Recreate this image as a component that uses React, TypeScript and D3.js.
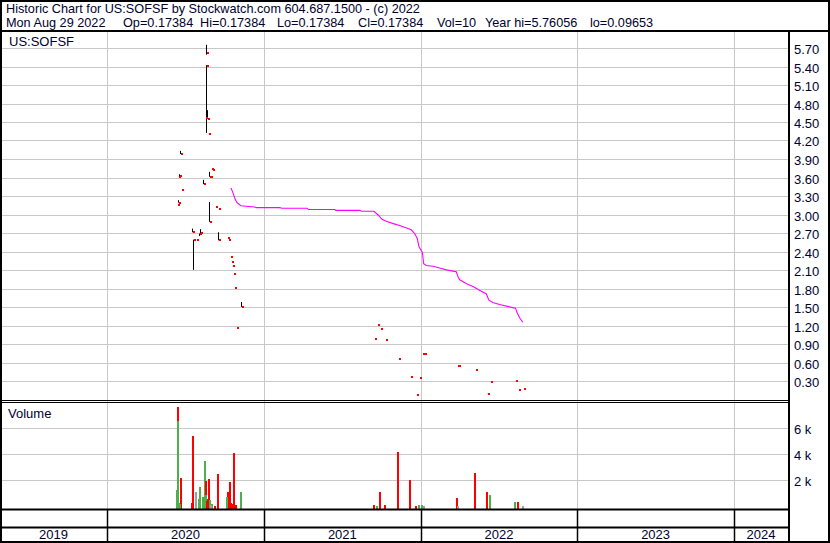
import * as d3 from "d3";

// daily trades
const TRADE_DATES = [
  "2020-06-15", "2020-06-16", "2020-06-17", "2020-06-19", "2020-06-22", "2020-06-23",
  "2020-07-20", "2020-07-21", "2020-07-28", "2020-08-05", "2020-08-07", "2020-08-14",
  "2020-08-19", "2020-08-20", "2020-08-21", "2020-08-24", "2020-08-25", "2020-08-27",
  "2020-08-28", "2020-08-31", "2020-09-02", "2020-09-04", "2020-09-11", "2020-09-17",
  "2020-09-18", "2020-10-08", "2020-10-12", "2020-10-16", "2020-10-18", "2020-10-20",
  "2020-10-22", "2020-10-25", "2020-10-29", "2020-11-10",
  "2021-09-16", "2021-09-23", "2021-09-30", "2021-10-12", "2021-11-12", "2021-12-10",
  "2021-12-24", "2021-12-30",
  "2022-01-07", "2022-01-10", "2022-03-28", "2022-04-01", "2022-05-11", "2022-06-08",
  "2022-06-15", "2022-08-12", "2022-08-17", "2022-08-29",
];
const HIGHS = [
  3.17, 3.62, 3.24, 3.66, 4.04, 3.41,
  2.78, 2.6, 2.59, 2.7, 2.77, 3.57,
  4.58, 5.76, 5.43, 4.7, 4.31, 3.7,
  3.21, 3.62, 3.75, 3.73, 3.13, 3.1,
  2.72, 2.62, 2.59, 2.32, 2.23, 2.17,
  2.04, 1.82, 1.17, 1.59,
  0.99, 1.22, 1.15, 0.97, 0.66, 0.37,
  0.08, 0.36,
  0.75, 0.75, 0.55, 0.55, 0.49, 0.1,
  0.29, 0.31, 0.16, 0.17384,
];
const LOWS = [
  3.17, 3.62, 3.2, 3.62, 3.99, 3.41,
  2.72, 2.11, 2.59, 2.66, 2.7, 3.5,
  4.58, 5.6, 4.33, 4.56, 4.31, 3.62,
  2.89, 3.6, 3.75, 3.73, 3.13, 3.1,
  2.59, 2.62, 2.59, 2.32, 2.23, 2.17,
  2.04, 1.82, 1.17, 1.51,
  0.99, 1.22, 1.15, 0.97, 0.66, 0.37,
  0.08, 0.36,
  0.75, 0.75, 0.55, 0.55, 0.49, 0.0965,
  0.29, 0.31, 0.16, 0.17384,
];
const CLOSES = [
  3.17, 3.62, 3.2, 3.64, 3.99, 3.41,
  2.72, 2.59, 2.59, 2.69, 2.71, 3.5,
  4.58, 5.63, 5.42, 4.56, 4.31, 3.62,
  2.89, 3.62, 3.75, 3.73, 3.13, 3.1,
  2.59, 2.62, 2.59, 2.32, 2.23, 2.17,
  2.04, 1.82, 1.17, 1.51,
  0.99, 1.22, 1.15, 0.97, 0.66, 0.37,
  0.08, 0.36,
  0.75, 0.75, 0.55, 0.55, 0.49, 0.1,
  0.29, 0.31, 0.16, 0.17384,
];
const VOLUMES = [
  1270, 6580, 7650, 300, 200, 2200,
  300, 5420, 1100, 580, 1500, 730,
  3500, 900, 1960, 400, 600, 2100,
  800, 500, 100, 200, 60, 60,
  2500, 730, 1100, 1880, 250, 200,
  100, 4100, 150, 1100,
  120, 50, 1100, 120, 4200, 2050,
  50, 120,
  120, 30, 650, 30, 2580, 1100,
  880, 350, 350, 10,
];
// u = up day (green), d = down day (red), n = unchanged (grey)
const MOVES = [
  "u", "u", "d", "u", "u", "d",
  "d", "d", "n", "u", "u", "u",
  "u", "u", "d", "d", "d", "d",
  "d", "u", "n", "u", "d", "d",
  "d", "u", "d", "d", "d", "d",
  "d", "d", "d", "u",
  "d", "u", "d", "d", "d", "d",
  "d", "u",
  "u", "n", "d", "n", "d", "d",
  "u", "u", "d", "n",
];

// moving average line
const MA_DATES = [
  "2020-10-16", "2020-10-21", "2020-10-26", "2020-10-30", "2020-11-08", "2020-12-10",
  "2020-12-14", "2021-02-07", "2021-02-11", "2021-04-11", "2021-04-14", "2021-06-15",
  "2021-06-17", "2021-08-12", "2021-08-16", "2021-09-14", "2021-09-24", "2021-10-03",
  "2021-10-13", "2021-10-29", "2021-11-13", "2021-11-29", "2021-12-10", "2021-12-18",
  "2021-12-24", "2021-12-28", "2022-01-02", "2022-01-05", "2022-01-08", "2022-01-14",
  "2022-01-30", "2022-02-14", "2022-03-02", "2022-03-17", "2022-03-25", "2022-03-29",
  "2022-04-02", "2022-04-17", "2022-05-03", "2022-05-18", "2022-06-03", "2022-06-09",
  "2022-06-18", "2022-07-04", "2022-07-27", "2022-08-10", "2022-08-14", "2022-08-20",
  "2022-08-27",
];
const MA_VALUES = [
  3.44, 3.35, 3.25, 3.2, 3.15, 3.13,
  3.12, 3.12, 3.11, 3.11, 3.09, 3.09,
  3.075, 3.075, 3.06, 3.06, 3.0, 2.93,
  2.9, 2.86, 2.83, 2.79, 2.76, 2.7,
  2.62, 2.49, 2.43, 2.39, 2.21, 2.18,
  2.17, 2.14, 2.11, 2.09, 2.08, 2.0,
  1.95, 1.89, 1.84, 1.78, 1.72, 1.62,
  1.58, 1.55, 1.51, 1.49, 1.41, 1.33,
  1.26,
];

const PRICE_TICKS = [0.3, 0.6, 0.9, 1.2, 1.5, 1.8, 2.1, 2.4, 2.7, 3.0, 3.3, 3.6, 3.9, 4.2, 4.5, 4.8, 5.1, 5.4, 5.7];
const VOLUME_TICKS = [2000, 4000, 6000];
const YEARS = [2019, 2020, 2021, 2022, 2023, 2024];

const TITLE = "Historic Chart for US:SOFSF by Stockwatch.com 604.687.1500 - (c) 2022";
const INFO = [
  { text: "Mon Aug 29 2022", x: 6 },
  { text: "Op=0.17384", x: 123 },
  { text: "Hi=0.17384", x: 200 },
  { text: "Lo=0.17384", x: 277 },
  { text: "Cl=0.17384", x: 358 },
  { text: "Vol=10", x: 437 },
  { text: "Year hi=5.76056", x: 485 },
  { text: "lo=0.09653", x: 590 },
];

const W = 830;
const H = 543;
const PLOT_R = 788;
const TEXT = "#00002e";
const GRID = "#c8c8c8";
const FONT = "'Liberation Sans', Arial, sans-serif";
const MOVE_COLOR: Record<string, string> = { u: "#4cb04c", d: "#ff0000", n: "#a0a0a0" };

const parse = d3.timeParse("%Y-%m-%d");

export default function App() {
  const x = d3
    .scaleTime()
    .domain([new Date(2020, 0, 1), new Date(2023, 0, 1)])
    .range([107, 577.3]);
  const yPrice = d3.scaleLinear().domain([0, 6]).range([400, 30]);
  const yVol = d3.scaleLinear().domain([0, 8000]).range([506.5, 402.5]);

  const trades = TRADE_DATES.map((d, i) => ({
    px: Math.round(x(parse(d) as Date)),
    high: HIGHS[i],
    low: LOWS[i],
    close: CLOSES[i],
    vol: VOLUMES[i],
    move: MOVES[i],
  }));

  const ma = MA_DATES.map((d, i) => ({ date: parse(d) as Date, v: MA_VALUES[i] }));
  const maLine = d3
    .line<{ date: Date; v: number }>()
    .x((d) => x(d.date))
    .y((d) => yPrice(d.v));

  const yearEdges = YEARS.map((yr) => ({
    yr,
    x0: Math.max(0, x(new Date(yr, 0, 1))),
    x1: Math.min(PLOT_R, x(new Date(yr + 1, 0, 1))),
  }));
  const dividers = YEARS.slice(1).map((yr) => Math.round(x(new Date(yr, 0, 1))));

  // big bars first so the small ones stay visible
  const volBars = [...trades].sort((a, b) => b.vol - a.vol);

  return (
    <svg
      width={W}
      height={H}
      style={{ position: "absolute", left: 0, top: 0, background: "#fff" }}
      fontFamily={FONT}
    >
      <rect x={0} y={0} width={W} height={H} fill="#fff" />

      {/* header */}
      <text x={6} y={13} fontSize={12.7} fill={TEXT}>
        {TITLE}
      </text>
      {INFO.map((t) => (
        <text key={t.text} x={t.x} y={27} fontSize={12.7} fill={TEXT}>
          {t.text}
        </text>
      ))}

      {/* grid */}
      {PRICE_TICKS.map((v) => {
        const y = Math.floor(yPrice(v)) + 0.5;
        return (
          <g key={v}>
            <line x1={0} x2={PLOT_R} y1={y} y2={y} stroke={GRID} />
            <text x={794} y={y + 1} fontSize={13} fill={TEXT} dominantBaseline="central">
              {v.toFixed(2)}
            </text>
          </g>
        );
      })}
      {VOLUME_TICKS.map((v) => {
        const y = Math.floor(yVol(v)) + 0.5;
        return (
          <g key={v}>
            <line x1={0} x2={PLOT_R} y1={y} y2={y} stroke={GRID} />
            <text x={794} y={y + 1} fontSize={13} fill={TEXT} dominantBaseline="central">
              {`${v / 1000} k`}
            </text>
          </g>
        );
      })}
      {dividers.map((dx) => (
        <line key={dx} x1={dx + 0.5} x2={dx + 0.5} y1={32} y2={509} stroke={GRID} />
      ))}

      <text x={9} y={46} fontSize={13} fill={TEXT}>
        US:SOFSF
      </text>
      <text x={8} y={418} fontSize={13} fill={TEXT}>
        Volume
      </text>

      {/* moving average */}
      <path d={maLine(ma) || ""} fill="none" stroke="#ff00ff" strokeWidth={1.1} />

      {/* high-low ranges and closes */}
      {trades
        .filter((t) => t.high - t.low > 0.001)
        .map((t, i) => (
          <line
            key={"hl" + i}
            x1={t.px - 0.5}
            x2={t.px - 0.5}
            y1={yPrice(t.high)}
            y2={yPrice(t.low)}
            stroke="#000"
            strokeWidth={1}
          />
        ))}
      {trades.map((t, i) => (
        <rect
          key={"c" + i}
          x={t.px - 0.5}
          y={Math.round(yPrice(t.close)) - 1}
          width={2}
          height={2}
          fill="#ff0000"
          shapeRendering="crispEdges"
        />
      ))}

      {/* volume bars */}
      {volBars.map((t, i) => {
        const top = Math.min(yVol(t.vol), 507.5);
        return (
          <rect
            key={"v" + i}
            x={t.px - 2}
            y={top}
            width={2}
            height={508.5 - top}
            fill={MOVE_COLOR[t.move]}
            shapeRendering="crispEdges"
          />
        );
      })}

      {/* frame lines */}
      <line x1={0} x2={W} y1={31} y2={31} stroke="#000" strokeWidth={2} />
      <line x1={0} x2={PLOT_R} y1={400.5} y2={400.5} stroke="#000" strokeWidth={1} />
      <line x1={0} x2={PLOT_R} y1={402.5} y2={402.5} stroke="#000" strokeWidth={1} />
      <line x1={0} x2={PLOT_R} y1={509.5} y2={509.5} stroke="#000" strokeWidth={2} />
      <line x1={0} x2={PLOT_R} y1={527.5} y2={527.5} stroke="#000" strokeWidth={2} />
      <line x1={789} x2={789} y1={31} y2={H} stroke="#000" strokeWidth={2} />
      {dividers.map((dx) => (
        <line key={"d" + dx} x1={dx + 0.5} x2={dx + 0.5} y1={509} y2={541} stroke="#000" strokeWidth={1.5} />
      ))}
      <rect x={1} y={1} width={W - 2} height={H - 2} fill="none" stroke="#000" strokeWidth={2} />

      {/* year labels */}
      {yearEdges.map((e) => (
        <text
          key={e.yr}
          x={(e.x0 + e.x1) / 2}
          y={539}
          fontSize={13}
          fill={TEXT}
          textAnchor="middle"
        >
          {e.yr}
        </text>
      ))}
    </svg>
  );
}
